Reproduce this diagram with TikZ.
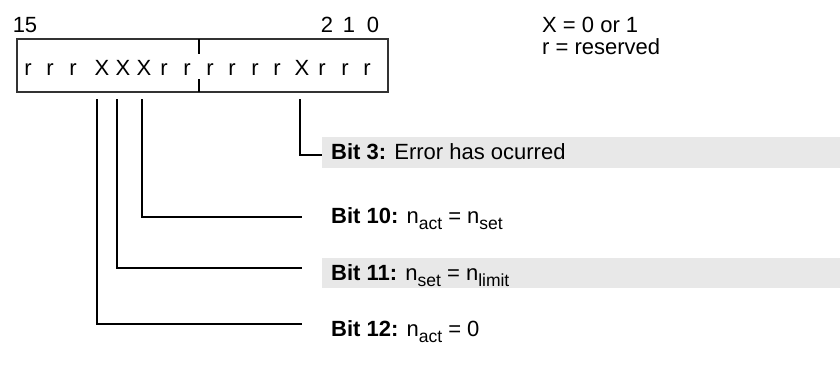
\documentclass[tikz,border=0pt]{standalone}
\usepackage{fontspec}
\setmainfont{Liberation Sans}
\usetikzlibrary{positioning}

\newcommand{\nsub}[1]{\raisebox{-6.5pt}{\fontsize{17.5}{17.5}\selectfont #1}}

\tikzset{
  bitchar/.style={inner sep=0pt, anchor=base, font=\fontsize{22}{26}\selectfont},
  bitlabel/.style={inner sep=0pt, anchor=base west, font=\fontsize{22}{26}\selectfont},
  leader/.style={black, line width=1.2pt},
  band/.style={fill=black!9, draw=none}
}

\begin{document}
\begin{tikzpicture}[x=1pt,y=-1pt]
\useasboundingbox (0,0) rectangle (840,365);
% register
\draw[line width=2.4pt, black!80] (17,39) rectangle (388,92);
\draw[line width=1.2pt] (199,39) -- (199,54);
\draw[line width=1.2pt] (199,79) -- (199,92);
\node[bitchar] (n15) at (25,32) {15};
\node[bitchar] (n2) at (327,32) {2};
\node[bitchar] (n1) at (349,32) {1};
\node[bitchar] (n0) at (373,32) {0};
\foreach \b/\c/\x in {15/r/28, 14/r/50, 13/r/73, 12/X/102, 11/X/123, 10/X/144,
    9/r/164, 8/r/187, 7/r/210, 6/r/232, 5/r/255, 4/r/277, 3/X/302, 2/r/322,
    1/r/345, 0/r/367}
  \node[bitchar] (b\b) at (\x,75) {\c};
% legend
\node[bitlabel] (lx) at (542,32) {X = 0 or 1};
\node[bitlabel] (lr) at (542,54) {r = reserved};
% bands
\fill[band] (322,137) rectangle (840,168);
\fill[band] (322,258) rectangle (840,288);
% descriptions
\node[bitlabel] (l3) at (331,159) {\textbf{Bit 3:} Error has ocurred};
\node[bitlabel] (l10) at (331,223) {\textbf{Bit 10:} n\nsub{act} = n\nsub{set}};
\node[bitlabel] (l11) at (331,280) {\textbf{Bit 11:} n\nsub{set} = n\nsub{limit}};
\node[bitlabel] (l12) at (331,336) {\textbf{Bit 12:} n\nsub{act} = 0};
% leader lines
\coordinate (t3) at (300,99);
\coordinate (t10) at (142,99);
\coordinate (t11) at (117,99);
\coordinate (t12) at (97,99);
\coordinate (e3) at (322,155);
\coordinate (e10) at (302,217);
\coordinate (e11) at (302,268);
\coordinate (e12) at (302,324);
\draw[leader] (t3) |- (e3);
\draw[leader] (t10) |- (e10);
\draw[leader] (t11) |- (e11);
\draw[leader] (t12) |- (e12);
\end{tikzpicture}
\end{document}
